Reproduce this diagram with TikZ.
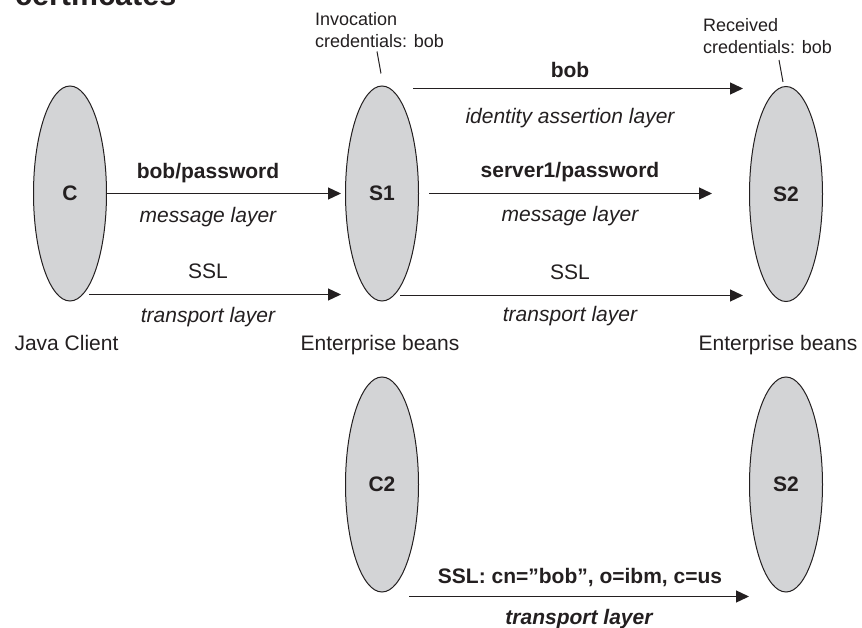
\documentclass[tikz,border=0pt]{standalone}
\usepackage{fontspec}
\setmainfont{Liberation Sans}
\usetikzlibrary{shapes.geometric,arrows.meta,calc}
\definecolor{ellgray}{RGB}{211,212,214}
\definecolor{ink}{RGB}{35,31,32}
\tikzset{
  ell/.style={ellipse, draw=ink, line width=1pt, fill=ellgray, inner sep=0pt,
    minimum width=73pt, minimum height=215pt, text=ink,
    font=\fontsize{21}{25}\selectfont\bfseries},
  arr/.style={draw=ink, line width=1.3pt, -{Triangle[length=13pt,width=12pt]}},
  lead/.style={draw=ink, line width=1pt},
  lbl/.style={anchor=base, inner sep=0pt, text=ink, font=\fontsize{21}{25}\selectfont},
  blbl/.style={lbl, font=\fontsize{21}{25}\selectfont\bfseries},
  ilbl/.style={lbl, font=\fontsize{21}{25}\selectfont\itshape},
  bilbl/.style={lbl, font=\fontsize{21}{25}\selectfont\bfseries\itshape},
  small/.style={anchor=base west, inner sep=0pt, align=left, text=ink,
    font=\fontsize{18}{22.5}\selectfont}
}
\begin{document}
\begin{tikzpicture}[x=1pt,y=-1pt]
\useasboundingbox (0,0) rectangle (862,628);

% title (cut off at the top)
\node[anchor=base west, inner sep=0pt, text=ink, font=\fontsize{30.5}{34}\selectfont\bfseries] (title) at (15,6) {certificates};

% ellipses
\node[ell] (C)   at (70,193.5) {C};
\node[ell] (S1)  at (382,193.5) {S1};
\node[ell] (S2)  at (786,194) {S2};
\node[ell] (C2)  at (382,484.5) {C2};
\node[ell] (S2b) at (786,484.5) {S2};

% captions under the ellipses
\node[lbl] (jc)  at (66.5,350) {Java Client};
\node[lbl] (eb1) at (380,350) {Enterprise beans};
\node[lbl] (eb2) at (778,350) {Enterprise beans};

% top notes (base = baseline of the last line)
\node[small] (inv) at (315,48) {Invocation\\credentials: bob};
\node[small] (rec) at (703,54) {Received\\credentials: bob};
\draw[lead] ([xshift=-5pt,yshift=34pt]S1.north) coordinate (l1a) -- ([xshift=-1pt,yshift=12pt]S1.north);
\draw[lead] ([xshift=-7pt,yshift=26pt]S2.north) coordinate (l2a) -- ([xshift=-3pt,yshift=4pt]S2.north);

% C -> S1
\draw[arr, shorten >=4pt] (C.east) -- (C.east -| S1.west);
\draw[arr, shorten >=4pt] ([xshift=19pt,yshift=7pt]C.south) coordinate (ct) -- (ct -| S1.west);
\node[blbl] (m1) at (208,179) {bob/password};
\node[ilbl] (m1l) at (208,223) {message layer};
\node[lbl]  (t1) at (208,279) {SSL};
\node[ilbl] (t1l) at (208,323) {transport layer};

% S1 -> S2
\draw[arr, shorten >=6pt] ([xshift=31pt,yshift=-3pt]S1.north) coordinate (it) -- (it -| S2.west);
\draw[arr, shorten <=10pt, shorten >=37pt] (S1.east) -- (S1.east -| S2.west);
\draw[arr, shorten >=6pt] ([xshift=18pt,yshift=6pt]S1.south) coordinate (st) -- (st -| S2.west);
\node[blbl] (ia) at (570,78) {bob};
\node[ilbl] (ial) at (570,124) {identity assertion layer};
\node[blbl] (m2) at (570,178) {server1/password};
\node[ilbl] (m2l) at (570,222) {message layer};
\node[lbl]  (t2) at (570,280) {SSL};
\node[ilbl] (t2l) at (570,321) {transport layer};

% C2 -> S2
\draw[arr] ([xshift=27pt,yshift=-4pt]C2.south) coordinate (bt) -- (bt -| S2b.west);
\node[blbl]  (cert) at (580,583) {SSL: cn=”bob”, o=ibm, c=us};
\node[bilbl] (t3l) at (579,624) {transport layer};
\end{tikzpicture}
\end{document}
